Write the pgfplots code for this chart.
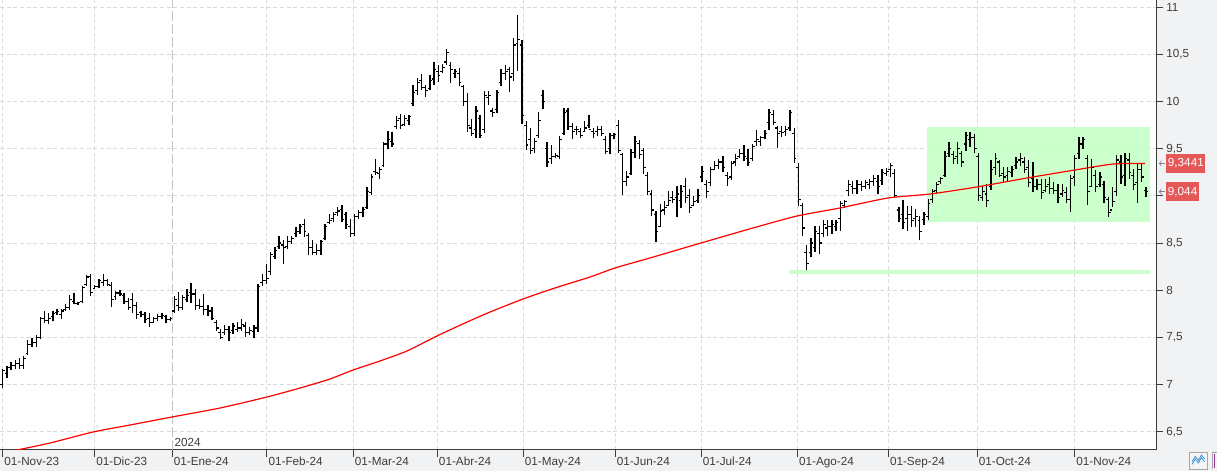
\documentclass[border=0pt]{standalone}
\usepackage{pgfplots}
\pgfplotsset{compat=1.18}
\usepackage{pgfplotstable}
\usepackage{fontspec}
\setmainfont{Liberation Sans}
\definecolor{panelbg}{RGB}{241,242,244}
\definecolor{boxgreen}{RGB}{204,255,204}
\definecolor{boxgreenb}{RGB}{195,255,195}
\definecolor{labred}{RGB}{229,88,88}
\definecolor{gridc}{RGB}{218,218,218}
\definecolor{yeargrid}{RGB}{195,195,195}
\definecolor{axc}{RGB}{60,60,60}
\definecolor{zig}{RGB}{60,150,220}

\pgfdeclareplotmark{ohlcopen}{\pgfpathmoveto{\pgfqpoint{-\pgfplotmarksize}{0pt}}\pgfpathlineto{\pgfqpoint{0pt}{0pt}}\pgfusepathqstroke}
\pgfdeclareplotmark{ohlcclose}{\pgfpathmoveto{\pgfqpoint{0pt}{0pt}}\pgfpathlineto{\pgfqpoint{\pgfplotmarksize}{0pt}}\pgfusepathqstroke}

\pgfplotstableread{
i o h l c
0 7.00 7.17 6.96 7.15
1 7.12 7.20 7.07 7.18
2 7.18 7.24 7.15 7.20
3 7.20 7.26 7.16 7.22
4 7.22 7.28 7.17 7.20
5 7.20 7.30 7.17 7.28
6 7.33 7.47 7.31 7.42
7 7.42 7.49 7.40 7.45
8 7.45 7.52 7.40 7.50
9 7.50 7.72 7.48 7.70
10 7.70 7.78 7.65 7.68
11 7.68 7.76 7.64 7.70
12 7.72 7.78 7.67 7.75
13 7.76 7.80 7.74 7.77
14 7.74 7.80 7.70 7.78
15 7.80 7.85 7.78 7.82
16 7.82 7.95 7.79 7.90
17 7.88 7.97 7.85 7.86
18 7.86 7.88 7.84 7.87
19 7.88 8.04 7.86 8.03
20 8.06 8.16 8.04 8.14
21 8.15 8.17 7.94 7.98
22 8.02 8.06 8.01 8.04
23 8.04 8.12 8.02 8.10
24 8.08 8.17 8.05 8.10
25 8.10 8.12 8.04 8.06
26 8.05 8.09 7.82 7.90
27 7.93 7.99 7.90 7.97
28 7.97 8.00 7.94 7.96
29 7.94 7.97 7.85 7.88
30 7.88 7.92 7.79 7.82
31 7.90 7.97 7.76 7.84
32 7.84 7.88 7.70 7.74
33 7.76 7.78 7.72 7.74
34 7.74 7.77 7.65 7.69
35 7.70 7.76 7.61 7.66
36 7.66 7.72 7.65 7.70
37 7.70 7.75 7.67 7.72
38 7.72 7.76 7.69 7.73
39 7.72 7.74 7.65 7.69
40 7.69 7.72 7.67 7.70
41 7.78 7.94 7.76 7.90
42 7.84 7.98 7.78 7.82
43 7.82 7.95 7.79 7.92
44 7.90 8.01 7.87 7.94
45 7.98 8.08 7.86 7.96
46 7.96 8.01 7.79 7.84
47 7.84 7.91 7.80 7.83
48 7.83 7.96 7.74 7.80
49 7.80 7.84 7.73 7.78
50 7.78 7.82 7.68 7.70
51 7.66 7.68 7.57 7.60
52 7.55 7.59 7.48 7.50
53 7.55 7.63 7.52 7.58
54 7.58 7.62 7.46 7.55
55 7.57 7.65 7.54 7.62
56 7.58 7.66 7.56 7.60
57 7.60 7.70 7.57 7.64
58 7.62 7.66 7.50 7.55
59 7.55 7.61 7.52 7.57
60 7.56 7.63 7.49 7.60
61 7.60 8.07 7.56 8.04
62 8.08 8.17 8.05 8.10
63 8.10 8.28 8.07 8.12
64 8.20 8.40 8.16 8.38
65 8.36 8.46 8.33 8.42
66 8.46 8.57 8.44 8.50
67 8.48 8.53 8.28 8.45
68 8.46 8.57 8.44 8.52
69 8.52 8.58 8.49 8.55
70 8.60 8.67 8.56 8.62
71 8.62 8.70 8.60 8.68
72 8.70 8.76 8.56 8.62
73 8.58 8.61 8.37 8.45
74 8.45 8.53 8.37 8.40
75 8.40 8.49 8.37 8.42
76 8.42 8.53 8.37 8.52
77 8.55 8.70 8.53 8.68
78 8.72 8.81 8.70 8.74
79 8.76 8.83 8.72 8.80
80 8.82 8.88 8.79 8.84
81 8.86 8.90 8.72 8.75
82 8.80 8.83 8.65 8.70
83 8.68 8.75 8.56 8.60
84 8.60 8.81 8.57 8.78
85 8.78 8.85 8.76 8.82
86 8.82 8.88 8.78 8.86
87 8.88 9.09 8.86 9.05
88 9.04 9.23 9.01 9.20
89 9.26 9.39 9.22 9.25
90 9.24 9.31 9.18 9.28
91 9.32 9.57 9.31 9.55
92 9.55 9.69 9.50 9.60
93 9.58 9.68 9.52 9.55
94 9.74 9.85 9.71 9.80
95 9.82 9.87 9.71 9.75
96 9.76 9.86 9.74 9.82
97 9.80 9.86 9.75 9.84
98 9.98 10.18 9.95 10.10
99 10.12 10.25 10.07 10.20
100 10.22 10.29 10.12 10.15
101 10.15 10.18 10.05 10.12
102 10.14 10.28 10.12 10.22
103 10.24 10.42 10.18 10.34
104 10.32 10.39 10.21 10.28
105 10.32 10.40 10.30 10.36
106 10.42 10.56 10.39 10.52
107 10.38 10.42 10.20 10.34
108 10.30 10.35 10.25 10.32
109 10.30 10.36 10.16 10.20
110 10.16 10.18 9.95 10.00
111 10.00 10.09 9.68 9.75
112 9.72 9.82 9.63 9.66
113 9.70 9.95 9.61 9.90
114 9.82 9.86 9.61 9.64
115 9.70 10.11 9.67 10.06
116 10.04 10.11 9.96 10.06
117 9.90 9.93 9.84 9.88
118 9.92 10.12 9.88 10.10
119 10.20 10.35 10.16 10.30
120 10.30 10.39 10.23 10.32
121 10.34 10.37 10.10 10.26
122 10.30 10.67 10.22 10.60
123 10.62 10.92 10.32 10.66
124 10.60 10.65 9.76 9.85
125 9.75 9.79 9.49 9.54
126 9.60 9.72 9.44 9.48
127 9.50 9.61 9.45 9.58
128 9.64 9.89 9.61 9.80
129 10.06 10.12 9.92 10.00
130 9.50 9.57 9.31 9.36
131 9.40 9.54 9.34 9.42
132 9.42 9.45 9.40 9.43
133 9.42 9.63 9.39 9.60
134 9.66 9.93 9.65 9.88
135 9.90 9.93 9.70 9.74
136 9.74 9.77 9.60 9.68
137 9.70 9.74 9.65 9.70
138 9.68 9.72 9.61 9.64
139 9.68 9.79 9.68 9.72
140 9.75 9.86 9.72 9.70
141 9.68 9.72 9.61 9.66
142 9.68 9.74 9.63 9.70
143 9.70 9.74 9.63 9.66
144 9.60 9.63 9.44 9.47
145 9.50 9.67 9.44 9.64
146 9.64 9.67 9.60 9.65
147 9.75 9.80 9.46 9.48
148 9.44 9.46 9.01 9.15
149 9.15 9.26 9.11 9.20
150 9.24 9.50 9.22 9.46
151 9.46 9.63 9.40 9.58
152 9.56 9.59 9.39 9.44
153 9.48 9.51 9.23 9.30
154 9.22 9.25 9.01 9.05
155 9.02 9.06 8.79 8.85
156 8.80 8.84 8.51 8.62
157 8.68 8.91 8.67 8.84
158 8.85 8.95 8.80 8.88
159 8.90 9.05 8.89 8.95
160 8.98 9.05 8.93 8.96
161 8.98 9.10 8.78 9.02
162 8.95 9.12 8.87 9.05
163 9.10 9.19 8.93 8.98
164 9.00 9.07 8.82 8.88
165 8.90 9.00 8.89 8.94
166 8.95 9.07 8.93 9.00
167 9.20 9.32 9.15 9.26
168 9.12 9.17 8.98 9.05
169 9.14 9.31 9.10 9.28
170 9.28 9.37 9.27 9.32
171 9.32 9.39 9.28 9.36
172 9.36 9.42 9.25 9.30
173 9.22 9.25 9.11 9.18
174 9.20 9.37 9.17 9.34
175 9.36 9.44 9.32 9.40
176 9.42 9.50 9.40 9.45
177 9.45 9.54 9.37 9.42
178 9.40 9.50 9.32 9.35
179 9.40 9.55 9.37 9.52
180 9.58 9.70 9.53 9.60
181 9.58 9.63 9.53 9.62
182 9.62 9.70 9.60 9.66
183 9.78 9.92 9.70 9.88
184 9.86 9.91 9.75 9.78
185 9.72 9.74 9.51 9.66
186 9.68 9.74 9.62 9.67
187 9.68 9.74 9.64 9.70
188 9.72 9.91 9.69 9.88
189 9.66 9.72 9.35 9.40
190 9.30 9.35 8.89 8.96
191 8.90 8.93 8.58 8.66
192 8.40 8.48 8.21 8.28
193 8.40 8.55 8.35 8.50
194 8.45 8.68 8.40 8.62
195 8.60 8.68 8.38 8.50
196 8.60 8.74 8.56 8.70
197 8.66 8.74 8.58 8.68
198 8.68 8.74 8.60 8.70
199 8.68 8.74 8.63 8.72
200 8.76 8.95 8.63 8.92
201 8.90 8.96 8.87 8.94
202 9.06 9.17 9.00 9.12
203 9.10 9.16 9.02 9.08
204 9.08 9.17 9.02 9.12
205 9.12 9.16 9.05 9.10
206 9.10 9.17 9.07 9.14
207 9.12 9.18 9.07 9.15
208 9.15 9.22 9.11 9.18
209 9.15 9.22 9.02 9.10
210 9.16 9.28 9.12 9.25
211 9.24 9.30 9.21 9.26
212 9.28 9.35 9.20 9.32
213 9.24 9.28 8.98 9.00
214 8.85 8.88 8.72 8.76
215 8.80 8.96 8.65 8.72
216 8.76 8.89 8.63 8.80
217 8.80 8.89 8.67 8.74
218 8.76 8.86 8.67 8.78
219 8.74 8.79 8.53 8.62
220 8.75 8.83 8.69 8.80
221 8.78 8.97 8.74 8.92
222 8.96 9.07 8.93 9.05
223 9.06 9.15 9.03 9.12
224 9.15 9.20 9.13 9.18
225 9.22 9.48 9.20 9.42
226 9.45 9.57 9.41 9.50
227 9.44 9.48 9.34 9.40
228 9.42 9.57 9.34 9.50
229 9.45 9.48 9.31 9.36
230 9.55 9.68 9.48 9.64
231 9.60 9.68 9.52 9.62
232 9.62 9.66 9.45 9.50
233 9.42 9.45 8.95 9.00
234 8.98 9.11 8.95 9.05
235 9.02 9.13 8.88 8.95
236 9.10 9.38 9.06 9.28
237 9.30 9.46 9.22 9.40
238 9.36 9.38 9.20 9.22
239 9.24 9.31 9.15 9.20
240 9.22 9.31 9.16 9.26
241 9.25 9.32 9.20 9.28
242 9.32 9.41 9.29 9.36
243 9.38 9.46 9.32 9.40
244 9.36 9.41 9.24 9.28
245 9.30 9.38 9.09 9.14
246 9.18 9.36 9.04 9.10
247 9.10 9.18 9.06 9.12
248 9.12 9.18 8.97 9.04
249 9.06 9.18 9.04 9.10
250 9.12 9.20 9.02 9.08
251 9.08 9.15 9.02 9.06
252 9.06 9.13 8.92 8.98
253 9.02 9.13 8.99 9.06
254 9.04 9.09 8.92 8.96
255 8.96 9.22 8.83 9.18
256 9.20 9.43 9.11 9.40
257 9.45 9.62 9.39 9.55
258 9.55 9.62 9.50 9.60
259 9.40 9.43 8.90 9.05
260 9.10 9.39 9.11 9.30
261 9.22 9.27 9.04 9.10
262 9.12 9.25 9.09 9.20
263 9.12 9.16 8.92 8.98
264 8.96 8.99 8.78 8.82
265 8.85 9.09 8.88 8.94
266 9.05 9.43 9.00 9.38
267 9.36 9.43 9.13 9.20
268 9.22 9.45 9.11 9.40
269 9.38 9.46 9.18 9.25
270 9.22 9.29 9.06 9.12
271 9.14 9.34 8.93 9.28
272 9.28 9.34 9.15 9.20
273 9.06 9.09 8.99 9.044
}\ohlc

\pgfplotstableread{
i ma
-1 6.270
3.41 6.306
11.30 6.380
21.57 6.497
30.40 6.571
40.43 6.656
51.89 6.751
63.12 6.868
71.00 6.963
78.16 7.059
83.65 7.154
90.10 7.250
96.55 7.356
103.71 7.515
110.40 7.653
116.37 7.769
124.25 7.907
131.89 8.024
140.25 8.140
146.22 8.236
154.58 8.342
166.76 8.501
179.17 8.660
189.68 8.787
199.95 8.872
211.42 8.978
221.45 9.020
232.67 9.095
244.61 9.190
256.08 9.275
265.15 9.338
272.79 9.344
}\mavg

\begin{document}
\begin{tikzpicture}
\path[use as bounding box] (0,0) rectangle (912.75pt,353.25pt);
\fill[panelbg] (0,0) rectangle (912.75pt,353.25pt);
\fill[white] (0,15.75pt) rectangle (867pt,353.25pt);
% small button bottom right
\fill[white!96!black] (892pt,1.3pt) rectangle (905.5pt,13.7pt);
\draw[gray!70, line width=0.75pt] (892pt,1.3pt) rectangle (905.5pt,13.7pt);
\draw[zig, line width=0.6pt] (894pt,5pt) -- (896.5pt,9pt) -- (898.8pt,6pt) -- (901pt,10pt) -- (903.5pt,7pt);
\draw[zig, line width=0.6pt] (894pt,7pt) -- (896.5pt,11pt) -- (898.8pt,8pt) -- (901pt,12pt) -- (903.5pt,9pt);
\draw[gray!70, line width=0.75pt] (909.5pt,1.3pt) -- (909.5pt,13.7pt) -- (913pt,13.7pt);
\draw[violet!80, line width=1pt] (911pt,2.5pt) -- (911pt,12.5pt);
\begin{axis}[
  at={(0pt,15.75pt)}, anchor=south west,
  scale only axis, width=867pt, height=337.5pt,
  xmin=-0.645, xmax=275.4, ymin=6.306, ymax=11.077,
  axis x line*=bottom, axis y line*=right,
  axis line style={axc, line width=0.75pt},
  xtick={0,21.97,63.1,83.7,103.8,124.3,146.3,166.8,189.8,211.5,232.7,256.0},
  xticklabels={01-Nov-23,01-Dic-23,01-Feb-24,01-Mar-24,01-Abr-24,01-May-24,01-Jun-24,01-Jul-24,01-Ago-24,01-Sep-24,01-Oct-24,01-Nov-24},
  extra x ticks={40.5},
  extra x tick labels={01-Ene-24},
  extra x tick style={major grid style={yeargrid, dash pattern=on 7.5pt off 2.25pt, line width=0.75pt}},
  ytick={6.5,7,7.5,8,8.5,9.5,10,10.5,11},
  extra y ticks={9},
  extra y tick labels={},
  minor y tick num=3,
  tick align=outside,
  major tick length=5pt, minor tick length=2.5pt,
  tick style={axc, line width=0.75pt},
  grid=major,
  major grid style={gridc, dash pattern=on 3pt off 2pt, line width=0.75pt},
  yticklabel style={/pgf/number format/use comma, /pgf/number format/1000 sep={}, /pgf/number format/assume math mode=true, anchor=west, inner sep=0pt, xshift=2.5pt},
  tick label style={font=\fontsize{8.8}{10}\selectfont, text=axc},
  xticklabel style={anchor=north west, inner sep=0pt, xshift=1pt},
]
\addplot[draw=none, fill=boxgreenb, fill opacity=0.85, forget plot]
  coordinates {(220.7,8.727) (274.0,8.727) (274.0,9.727) (220.7,9.727)} -- cycle;
\addplot[boxgreen, line width=3pt, forget plot] coordinates {(187.8,8.196) (274.0,8.196)};
\addplot[draw=none, mark=none, forget plot,
  error bars/.cd, y dir=plus, y explicit, error mark=none,
  error bar style={draw=black, line width=1pt}]
  table[x=i, y=l, y error expr=\thisrow{h}-\thisrow{l}] {\ohlc};
\addplot[only marks, mark=ohlcopen, mark size=1.7pt, mark options={draw=black, line width=0.85pt}, forget plot]
  table[x=i, y=o] {\ohlc};
\addplot[only marks, mark=ohlcclose, mark size=1.7pt, mark options={draw=black, line width=0.85pt}, forget plot]
  table[x=i, y=c] {\ohlc};
\addplot[red, line width=0.9pt, smooth, tension=0.4, forget plot] table[x=i, y=ma] {\mavg};
% year marker
\draw[axc, line width=0.75pt] (axis cs:40.5,6.306) -- ++(0,7pt);
\node[anchor=base west, inner sep=0pt, text=axc, font=\fontsize{8.8}{10}\selectfont]
  at (axis cs:40.5,6.306) [xshift=1.5pt, yshift=2.6pt] {2024};
\coordinate (labA) at (axis cs:277.8,9.3441);
\coordinate (labB) at (axis cs:277.8,9.044);
\end{axis}
% last value labels
\node[fill=labred, text=white, anchor=west, inner xsep=1.2pt, inner ysep=0pt, minimum height=14.2pt, font=\fontsize{8.8}{10}\selectfont]
  at (labA) {9,3441};
\node[fill=labred, text=white, anchor=west, inner xsep=1.2pt, inner ysep=0pt, minimum height=14.2pt, font=\fontsize{8.8}{10}\selectfont]
  at (labB) {9,044};
\foreach \p in {labA,labB}{
  \draw[gray, line width=0.5pt] (\p) ++(-1pt,0) -- ++(-4pt,0);
  \draw[gray, line width=0.5pt] (\p) ++(-3.5pt,2pt) -- ++(-1.5pt,-2pt) -- ++(1.5pt,-2pt);
}
\end{tikzpicture}
\end{document}
